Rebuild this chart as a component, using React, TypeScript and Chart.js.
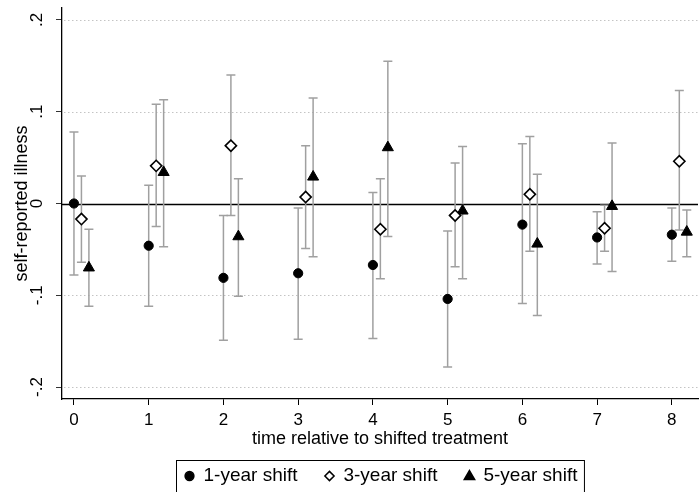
import React, { useEffect, useRef } from 'react';
import { Chart, registerables } from 'chart.js';

Chart.register(...registerables);

const periods = [0, 1, 2, 3, 4, 5, 6, 7, 8];
const seriesLabels = ['1-year shift', '3-year shift', '5-year shift'];

const est1 = [0, -0.046, -0.081, -0.076, -0.067, -0.104, -0.023, -0.037, -0.034];
const lo1 = [-0.078, -0.112, -0.149, -0.148, -0.147, -0.178, -0.109, -0.066, -0.063];
const hi1 = [0.078, 0.02, -0.013, -0.005, 0.012, -0.03, 0.065, -0.009, -0.005];

const est3 = [-0.017, 0.041, 0.063, 0.007, -0.028, -0.013, 0.01, -0.027, 0.046];
const lo3 = [-0.064, -0.025, -0.013, -0.049, -0.082, -0.069, -0.052, -0.052, -0.029];
const hi3 = [0.03, 0.108, 0.14, 0.063, 0.027, 0.044, 0.073, -0.002, 0.123];

const est5 = [-0.07, 0.034, -0.036, 0.029, 0.061, -0.008, -0.044, -0.003, -0.031];
const lo5 = [-0.112, -0.047, -0.101, -0.058, -0.036, -0.082, -0.122, -0.074, -0.058];
const hi5 = [-0.028, 0.113, 0.027, 0.115, 0.155, 0.062, 0.032, 0.066, -0.007];

const yTicks = [-0.2, -0.1, 0, 0.1, 0.2];
const xTicks = [0, 1, 2, 3, 4, 5, 6, 7, 8];

const FONT = "'Liberation Sans', Arial, Helvetica, sans-serif";
const seriesOffsets = [0, 0.1, 0.2];
const pointStyles = ['circle', 'rectRot', 'triangle'];
const pointRadii = [4.6, 5.6, 6.4];
const pointFills = ['#000000', '#ffffff', '#000000'];

function fmtY(v: number): string {
  if (Math.abs(v) < 1e-9) return '0';
  const s = v.toFixed(1);
  return s.replace('0.', '.');
}

const errorBarPlugin = {
  id: 'errorBars',
  beforeDatasetsDraw(chart: any) {
    const { ctx, chartArea, scales } = chart;
    const yS = scales.y;
    ctx.save();
    // dotted grid lines
    ctx.strokeStyle = '#c4c4c4';
    ctx.lineWidth = 1;
    ctx.setLineDash([1.5, 2.5]);
    yTicks.forEach((v) => {
      if (Math.abs(v) < 1e-9) return;
      const yy = Math.round(yS.getPixelForValue(v)) + 0.5;
      ctx.beginPath();
      ctx.moveTo(chartArea.left + 2, yy);
      ctx.lineTo(chartArea.right, yy);
      ctx.stroke();
    });
    ctx.setLineDash([]);
    const y0 = Math.round(yS.getPixelForValue(0)) + 0.5;
    ctx.strokeStyle = '#000000';
    ctx.lineWidth = 1.6;
    ctx.beginPath();
    ctx.moveTo(chartArea.left, y0);
    ctx.lineTo(chartArea.right, y0);
    ctx.stroke();
    ctx.strokeStyle = '#a0a0a0';
    ctx.lineWidth = 1.5;
    chart.data.datasets.forEach((ds: any, i: number) => {
      const meta = chart.getDatasetMeta(i);
      ds.data.forEach((raw: any, j: number) => {
        const el = meta.data[j];
        if (!el) return;
        const x = el.x;
        const yl = yS.getPixelForValue(raw.lo);
        const yh = yS.getPixelForValue(raw.hi);
        const cap = 4.5;
        ctx.beginPath();
        ctx.moveTo(x, yl);
        ctx.lineTo(x, yh);
        ctx.moveTo(x - cap, yl);
        ctx.lineTo(x + cap, yl);
        ctx.moveTo(x - cap, yh);
        ctx.lineTo(x + cap, yh);
        ctx.stroke();
      });
    });
    ctx.restore();
  },
};

function drawMarker(ctx: CanvasRenderingContext2D, style: string, x: number, y: number, r: number, fill: string) {
  ctx.beginPath();
  if (style === 'circle') {
    ctx.arc(x, y, r, 0, Math.PI * 2);
  } else if (style === 'rectRot') {
    ctx.moveTo(x, y - r);
    ctx.lineTo(x + r, y);
    ctx.lineTo(x, y + r);
    ctx.lineTo(x - r, y);
    ctx.closePath();
  } else {
    ctx.moveTo(x, y - r);
    ctx.lineTo(x + r * Math.cos(Math.PI / 6), y + r / 2);
    ctx.lineTo(x - r * Math.cos(Math.PI / 6), y + r / 2);
    ctx.closePath();
  }
  ctx.fillStyle = fill;
  ctx.fill();
  ctx.strokeStyle = '#000000';
  ctx.lineWidth = 1.5;
  ctx.stroke();
}

const boxLegendPlugin = {
  id: 'boxLegend',
  afterDraw(chart: any) {
    const { ctx, chartArea } = chart;
    ctx.save();
    ctx.font = `19px ${FONT}`;
    ctx.textBaseline = 'middle';
    ctx.textAlign = 'left';
    const markerW = 12;
    const gapMT = 8;
    const gapItems = 26;
    const padX = 7;
    const widths = seriesLabels.map((l) => ctx.measureText(l).width);
    const total =
      widths.reduce((a, b) => a + b, 0) + seriesLabels.length * (markerW + gapMT) + gapItems * (seriesLabels.length - 1);
    const boxW = total + padX * 2;
    const cx = (chartArea.left + chartArea.right) / 2;
    const boxL = Math.round(cx - boxW / 2) + 0.5;
    const boxT = 460.5;
    const cy = 476;
    ctx.strokeStyle = '#000000';
    ctx.lineWidth = 1;
    ctx.strokeRect(boxL, boxT, boxW, 60);
    let x = boxL + padX;
    seriesLabels.forEach((l, i) => {
      const r = [4.4, 4.6, 6][i];
      drawMarker(ctx, pointStyles[i], x + markerW / 2, cy + (i === 2 ? 0.5 : 0), r, pointFills[i]);
      x += markerW + gapMT;
      ctx.fillStyle = '#000000';
      ctx.fillText(l, x, cy);
      x += widths[i] + gapItems;
    });
    ctx.restore();
  },
};

export default function App() {
  const canvasRef = useRef<HTMLCanvasElement | null>(null);

  useEffect(() => {
    if (!canvasRef.current) return;
    Chart.defaults.font.family = FONT;
    Chart.defaults.color = '#000000';
    const ests = [est1, est3, est5];
    const los = [lo1, lo3, lo5];
    const his = [hi1, hi3, hi5];
    const datasets = seriesLabels.map((label, i) => ({
      label,
      data: periods.map((p, j) => ({ x: p + seriesOffsets[i], y: ests[i][j], lo: los[i][j], hi: his[i][j] })),
      pointStyle: pointStyles[i],
      pointRadius: pointRadii[i],
      pointHoverRadius: pointRadii[i],
      pointBackgroundColor: pointFills[i],
      pointBorderColor: '#000000',
      pointBorderWidth: i === 1 ? 1.6 : 1,
      showLine: false,
    }));

    const chart = new Chart(canvasRef.current, {
      type: 'scatter',
      data: { datasets: datasets as any },
      options: {
        animation: false,
        responsive: false,
        layout: { autoPadding: false, padding: { left: 0, right: 2, top: 8, bottom: 31 } },
        plugins: {
          legend: { display: false },
          tooltip: { enabled: false },
        },
        scales: {
          x: {
            type: 'linear',
            min: -0.16,
            max: 8.35,
            afterBuildTicks: (s: any) => {
              s.ticks = xTicks.map((v) => ({ value: v }));
            },
            afterFit: (s: any) => {
              s.height = 62;
              s.paddingLeft = 0;
              s.paddingRight = 0;
            },
            ticks: {
              font: { size: 17 },
              color: '#000000',
              padding: 5,
              maxRotation: 0,
              callback: (v: any) => String(v),
            },
            grid: {
              display: true,
              drawOnChartArea: false,
              drawTicks: true,
              tickLength: 6,
              tickColor: '#000000',
              tickWidth: 1,
            },
            border: { display: true, color: '#000000', width: 1.3 },
            title: {
              display: true,
              text: 'time relative to shifted treatment',
              font: { size: 18 },
              color: '#000000',
              padding: { top: 0, bottom: 11 },
            },
          },
          y: {
            type: 'linear',
            min: -0.213,
            max: 0.213,
            afterBuildTicks: (s: any) => {
              s.ticks = yTicks.map((v) => ({ value: v }));
            },
            afterFit: (s: any) => {
              s.width = 62;
              s.paddingTop = 0;
              s.paddingBottom = 0;
            },
            ticks: {
              font: { size: 17 },
              color: '#000000',
              padding: 9,
              minRotation: 90,
              maxRotation: 90,
              crossAlign: 'center',
              callback: (v: any) => fmtY(Number(v)),
            },
            grid: {
              display: true,
              drawOnChartArea: false,
              drawTicks: true,
              tickLength: 6,
              tickColor: '#333333',
              tickWidth: 1,
            },
            border: { display: true, color: '#000000', width: 1.3 },
            title: {
              display: true,
              text: 'self-reported illness',
              font: { size: 18 },
              color: '#000000',
              padding: { top: 11, bottom: 0 },
            },
          },
        },
      },
      plugins: [errorBarPlugin, boxLegendPlugin],
    } as any);

    return () => {
      chart.destroy();
    };
  }, []);

  return (
    <div style={{ position: 'absolute', left: 0, top: 0, width: 700, height: 492, background: '#ffffff' }}>
      <canvas ref={canvasRef} width={700} height={492} style={{ display: 'block' }} />
    </div>
  );
}
